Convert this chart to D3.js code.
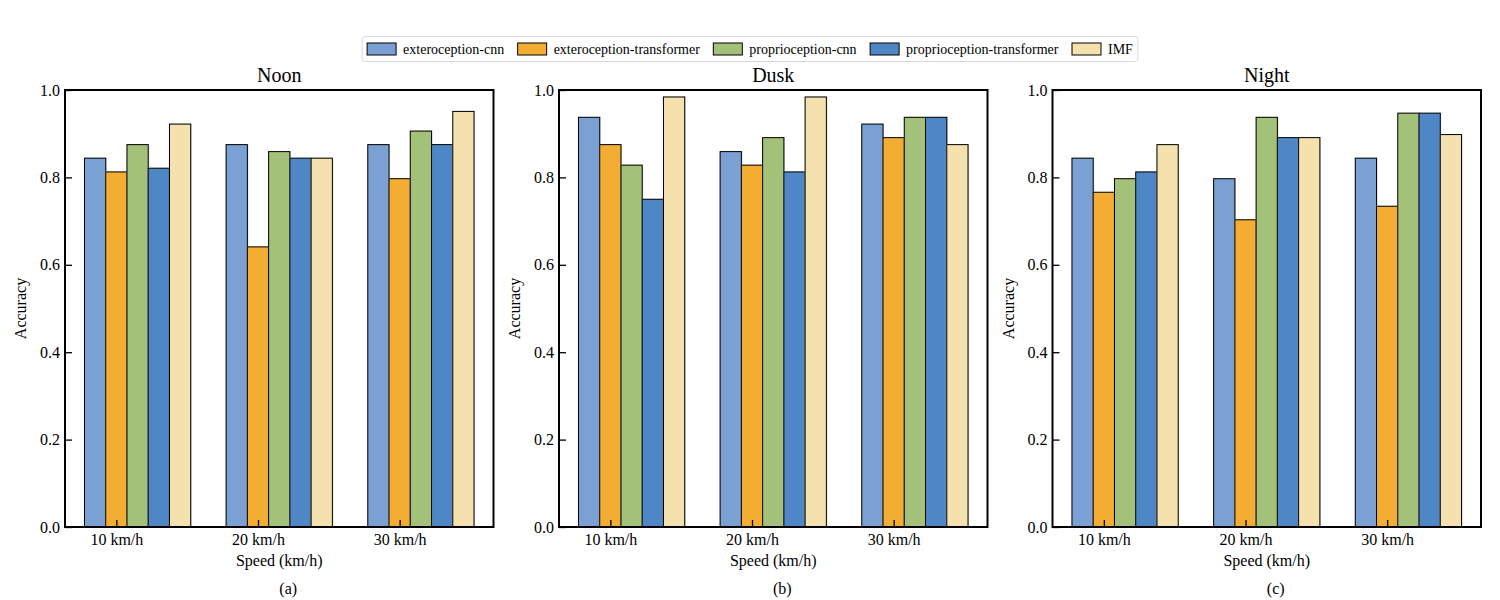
<!DOCTYPE html>
<html>
<head>
<meta charset="utf-8">
<script src="https://cdn.jsdelivr.net/npm/d3@7"></script>
<style>
  body { margin: 0; background: #fff; }
  svg text { font-family: "Liberation Serif", "Times New Roman", serif !important; fill: #000; }
</style>
</head>
<body>
<div id="chart"></div>
<script>
// data
const speeds = ["10 km/h", "20 km/h", "30 km/h"];
const models = ["exteroception-cnn", "exteroception-transformer", "proprioception-cnn", "proprioception-transformer", "IMF"];
const colors = ["#7ba0d4", "#f4ad33", "#a4c17a", "#4f86c6", "#f4e1ae"];
const panelTitles = ["Noon", "Dusk", "Night"];
const panelTags = ["(a)", "(b)", "(c)"];
const yTicks = [0, 0.2, 0.4, 0.6, 0.8, 1.0];

// accuracy per model, one value per speed
const noon = [
  [0.844, 0.875, 0.875],
  [0.8125, 0.641, 0.797],
  [0.875, 0.859, 0.906],
  [0.821, 0.844, 0.875],
  [0.922, 0.844, 0.951]
];
const dusk = [
  [0.9375, 0.859, 0.922],
  [0.875, 0.828, 0.891],
  [0.828, 0.891, 0.9375],
  [0.75, 0.8125, 0.9375],
  [0.984, 0.984, 0.875]
];
const night = [
  [0.844, 0.797, 0.844],
  [0.766, 0.703, 0.734],
  [0.797, 0.9375, 0.947],
  [0.8125, 0.891, 0.947],
  [0.875, 0.891, 0.898]
];
const panels = [noon, dusk, night];

const width = 1500, height = 600;
const plotW = 428.5, plotTop = 90, plotBottom = 527;
const lefts = [65, 559, 1052.5];
const barW = 0.15;
const serif = "Liberation Serif";

const svg = d3.select("#chart").append("svg")
    .attr("width", width)
    .attr("height", height)
    .attr("font-family", serif);

const y = d3.scaleLinear().domain([0, 1]).range([plotBottom, plotTop]);

panels.forEach(function(data, p) {
    const left = lefts[p];
    // x in "group units": groups at 0,1,2, with matplotlib-like margins
    const x = d3.scaleLinear().domain([-0.3625, 2.6625]).range([left, left + plotW]);
    const g = svg.append("g");

    // bars
    models.forEach(function(m, i) {
        const rows = data[i].map((v, k) => ({v: v, k: k}));
        g.selectAll(".shadow" + i)
            .data(rows)
            .join("rect")
            .attr("class", "shadow" + i)
            .attr("x", d => x(d.k + (i - 1) * barW - barW / 2) - 0.5)
            .attr("y", d => y(d.v) - 0.5)
            .attr("width", x(barW) - x(0) + 1.5)
            .attr("height", d => y(0) - y(d.v) + 0.5)
            .attr("fill", "#d0d0d0");
        g.selectAll(".bar" + i)
            .data(rows)
            .join("rect")
            .attr("class", "bar" + i)
            .attr("x", d => x(d.k + (i - 1) * barW - barW / 2))
            .attr("y", d => y(d.v))
            .attr("width", x(barW) - x(0))
            .attr("height", d => y(0) - y(d.v))
            .attr("fill", colors[i])
            .attr("stroke", "#000")
            .attr("stroke-width", 1);
    });

    // axes, ticks pointing inward
    const yAxis = g.append("g")
        .attr("transform", "translate(" + left + ",0)")
        .call(d3.axisLeft(y).tickValues(yTicks).tickFormat(d3.format(".1f")).tickSizeInner(-7).tickSizeOuter(0).tickPadding(5))
        .attr("font-family", serif);
    yAxis.select(".domain").remove();
    yAxis.selectAll("line").attr("stroke-width", 1.3);
    yAxis.selectAll("text").attr("font-size", 16).attr("x", -5).attr("font-family", serif);

    const xAxis = g.append("g")
        .attr("transform", "translate(0," + plotBottom + ")")
        .call(d3.axisBottom(x).tickValues([0, 1, 2]).tickFormat(d => speeds[d]).tickSizeInner(-7).tickSizeOuter(0))
        .attr("font-family", serif);
    xAxis.select(".domain").remove();
    xAxis.selectAll("line").attr("stroke-width", 1.3);
    xAxis.selectAll("text").attr("font-size", 16).attr("y", 7).attr("font-family", serif);

    // frame
    g.append("rect")
        .attr("x", left).attr("y", plotTop)
        .attr("width", plotW).attr("height", plotBottom - plotTop)
        .attr("fill", "none").attr("stroke", "#000").attr("stroke-width", 2);

    const cx = left + plotW / 2;
    g.append("text").attr("x", cx).attr("y", 82)
        .attr("text-anchor", "middle").attr("font-size", 20).text(panelTitles[p]);
    g.append("text").attr("x", cx).attr("y", 566)
        .attr("text-anchor", "middle").attr("font-size", 16).text("Speed (km/h)");
    g.append("text").attr("x", cx + 9).attr("y", 594)
        .attr("text-anchor", "middle").attr("font-size", 16).text(panelTags[p]);
    g.append("text")
        .attr("transform", "translate(" + (left - 39) + "," + ((plotTop + plotBottom) / 2) + ") rotate(-90)")
        .attr("text-anchor", "middle").attr("font-size", 16).text("Accuracy");
});

// legend
const leg = svg.append("g");
const frame = leg.append("rect");
let lx = 0;
models.forEach(function(m, i) {
    const it = leg.append("g").attr("transform", "translate(" + lx + ",0)");
    it.append("rect").attr("x", 0).attr("y", -6).attr("width", 29).attr("height", 12)
        .attr("fill", colors[i]).attr("stroke", "#000").attr("stroke-width", 1);
    const t = it.append("text").attr("x", 36).attr("y", 5).attr("font-size", 14).text(m);
    lx += 36 + t.node().getComputedTextLength() + 13.5;
});
const legW = lx - 13.5;
leg.attr("transform", "translate(" + (750 - legW / 2) + ",49)");
frame.attr("x", -5).attr("y", -12.5).attr("width", legW + 10).attr("height", 25)
    .attr("rx", 3).attr("fill", "#fff").attr("stroke", "#d9d9d9").attr("stroke-width", 1);
</script>
</body>
</html>
